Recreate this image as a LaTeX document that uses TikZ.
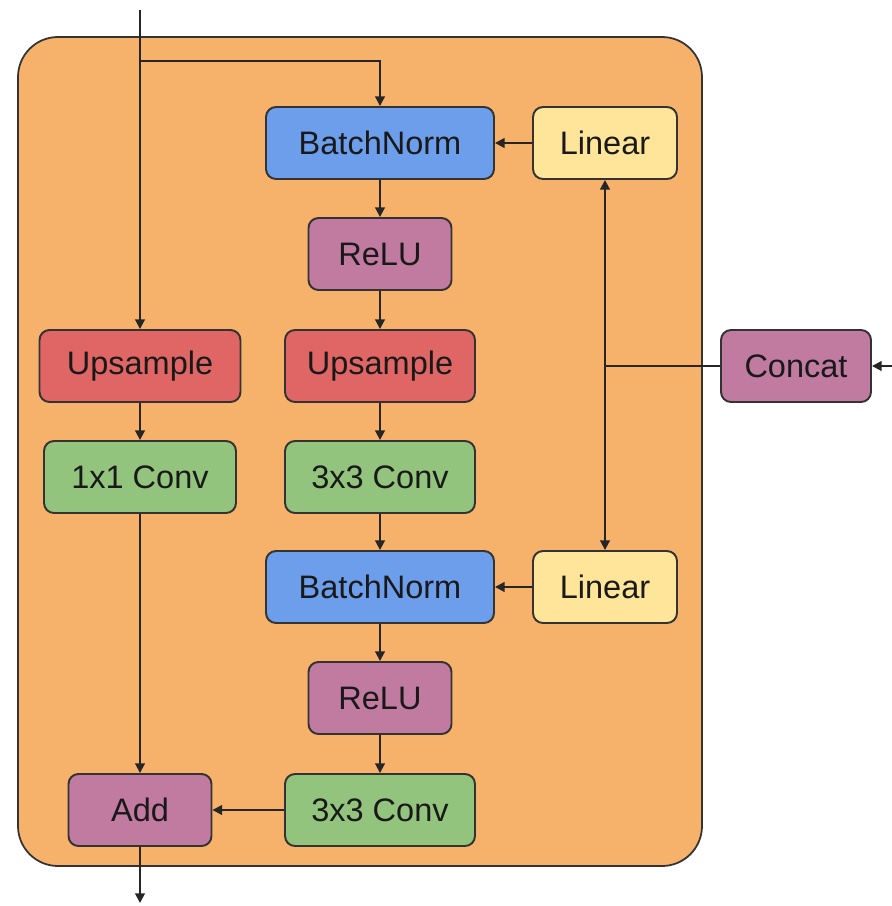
\documentclass[tikz,border=0pt]{standalone}
\usepackage{fontspec}
\setmainfont{Liberation Sans}
\usetikzlibrary{arrows.meta}
\definecolor{boxorange}{HTML}{F6B26B}
\definecolor{normblue}{HTML}{6D9EEB}
\definecolor{linyellow}{HTML}{FFE599}
\definecolor{uppred}{HTML}{E06666}
\definecolor{convgreen}{HTML}{93C47D}
\definecolor{actpurple}{HTML}{C27BA0}
\definecolor{edge}{HTML}{333333}
\tikzset{
  block/.style={draw=edge, line width=1.1pt, rounded corners=0.2cm,
    minimum height=1.44cm, inner sep=0pt, text=black!90,
    font=\fontsize{18.5}{22}\selectfont},
  flow/.style={-{Triangle[length=5.5pt, width=5.5pt]}, line width=1.1pt, black!85},
}

\begin{document}
\begin{tikzpicture}[x=0.02cm, y=-0.02cm]
  \useasboundingbox (0,0) rectangle (892,906);
  % the residual block
  \draw[edge, line width=1pt, fill=boxorange, rounded corners=0.8cm]
    (18,37) rectangle (702,866);

  \node[block, fill=normblue, minimum width=4.56cm] (bn1) at (380,143) {BatchNorm};
  \node[block, fill=linyellow, minimum width=2.88cm] (lin1) at (605,143) {Linear};
  \node[block, fill=actpurple, minimum width=2.86cm] (relu1) at (380,254) {ReLU};
  \node[block, fill=uppred, minimum width=4.02cm] (upl) at (140,366) {Upsample};
  \node[block, fill=uppred, minimum width=3.8cm] (upm) at (380,366) {Upsample};
  \node[block, fill=actpurple, minimum width=3.0cm] (cat) at (796,366) {Concat};
  \node[block, fill=convgreen, minimum width=3.84cm] (skip) at (140,477) {1x1 Conv};
  \node[block, fill=convgreen, minimum width=3.8cm] (conv1) at (380,477) {3x3 Conv};
  \node[block, fill=normblue, minimum width=4.56cm] (bn2) at (380,587) {BatchNorm};
  \node[block, fill=linyellow, minimum width=2.88cm] (lin2) at (605,587) {Linear};
  \node[block, fill=actpurple, minimum width=2.86cm] (relu2) at (380,698) {ReLU};
  \node[block, fill=actpurple, minimum width=2.86cm] (add) at (140,810) {Add};
  \node[block, fill=convgreen, minimum width=3.8cm] (conv2) at (380,810) {3x3 Conv};

  \coordinate (in) at (140,10);
  \coordinate (split) at (140,61);
  \coordinate (junc) at (605,366);
  \coordinate (condin) at (892,366);
  \coordinate (out) at (140,903);

  % main path
  \draw[flow] (in) -- (upl);
  \draw[flow] (split) -| (bn1);
  \draw[flow] (bn1) -- (relu1);
  \draw[flow] (relu1) -- (upm);
  \draw[flow] (upm) -- (conv1);
  \draw[flow] (conv1) -- (bn2);
  \draw[flow] (bn2) -- (relu2);
  \draw[flow] (relu2) -- (conv2);
  \draw[flow] (conv2) -- (add);
  % skip path
  \draw[flow] (upl) -- (skip);
  \draw[flow] (skip) -- (add);
  \draw[flow] (add) -- (out);
  % conditioning
  \draw[flow] (condin) -- (cat);
  \draw[line width=1.1pt, black!85] (cat) -- (junc);
  \draw[flow] (junc) -- (lin1);
  \draw[flow] (junc) -- (lin2);
  \draw[flow] (lin1) -- (bn1);
  \draw[flow] (lin2) -- (bn2);
\end{tikzpicture}
\end{document}
